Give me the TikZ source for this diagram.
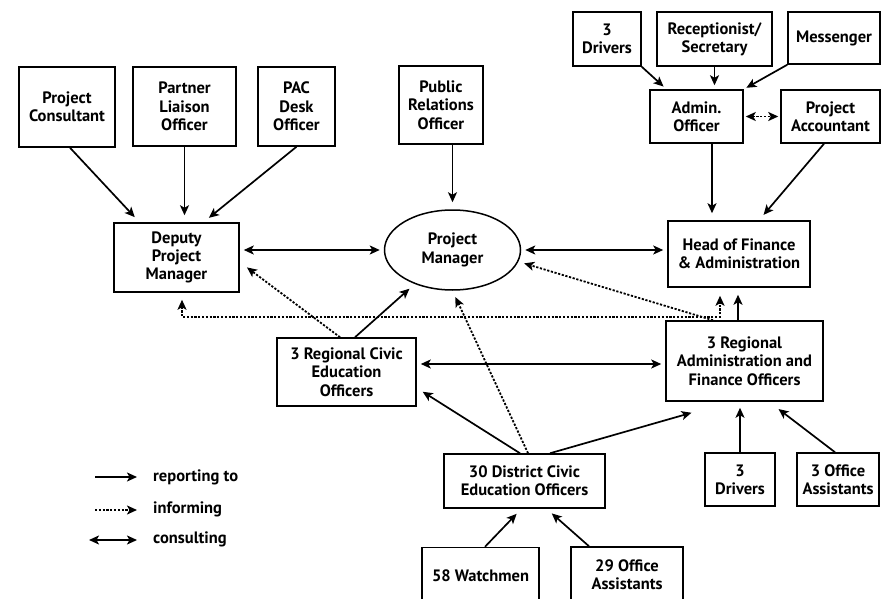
\documentclass[tikz,border=0pt]{standalone}
\usepackage{fontspec}
\setmainfont{PT Sans}
\usetikzlibrary{arrows.meta,shapes.geometric}
\tikzset{
  unit/.style={draw=black, line width=1.5pt, align=center, inner sep=0pt,
    font=\bfseries\fontsize{16.5}{18.3}\selectfont},
  keytext/.style={anchor=west, inner sep=0pt, font=\bfseries\fontsize{16.5}{18.3}\selectfont},
  report/.style={->, line width=1.7pt, shorten >=7pt},
  inform/.style={->, line width=1.8pt, dash pattern=on 2.2pt off 1.6pt, shorten >=7pt},
  consult/.style={<->, line width=1.7pt, shorten >=4pt, shorten <=4pt}
}
\begin{document}
\begin{tikzpicture}[x=1pt,y=-1pt,>={Stealth[length=10pt,width=9pt,inset=2.5pt]}]
\useasboundingbox (0,0) rectangle (881,599);
\clip (0,0) rectangle (881,599);
% boxes
\node[unit, minimum width=96, minimum height=80] (cons) at (67,107) {Project\\Consultant};
\node[unit, minimum width=103, minimum height=79] (liaison) at (184.5,106.5) {Partner\\Liaison\\Officer};
\node[unit, minimum width=77, minimum height=79] (pac) at (296.5,106.5) {PAC\\Desk\\Officer};
\node[unit, minimum width=84, minimum height=78] (pr) at (441,105) {Public\\Relations\\Officer};
\node[unit, minimum width=68, minimum height=54] (drivers) at (607,39) {3\\Drivers};
\node[unit, minimum width=115, minimum height=54] (recep) at (714.5,39) {Receptionist/\\Secretary};
\node[unit, minimum width=92, minimum height=52] (mess) at (834,38) {Messenger};
\node[unit, minimum width=93, minimum height=53] (admin) at (696.5,116.5) {Admin.\\Officer};
\node[unit, minimum width=99, minimum height=53] (acct) at (830.5,116.5) {Project\\Accountant};
\node[unit, minimum width=125, minimum height=69] (deputy) at (176.5,257.5) {Deputy\\Project\\Manager};
\node[unit, shape=ellipse, minimum width=136, minimum height=80] (pm) at (452.5,250) {Project\\Manager};
\node[unit, minimum width=142, minimum height=66] (hfa) at (739,254) {Head of Finance\\\& Administration};
\node[unit, minimum width=139, minimum height=68] (rceo) at (346.5,372) {3 Regional Civic\\Education\\Officers};
\node[unit, minimum width=157, minimum height=80] (rafo) at (744.5,361) {3 Regional\\Administration and\\Finance Officers};
\node[unit, minimum width=161, minimum height=54] (dceo) at (524.5,481) {30 District Civic\\Education Officers};
\node[unit, minimum width=70, minimum height=53] (rdrivers) at (740,479.5) {3\\Drivers};
\node[unit, minimum width=82, minimum height=53] (roffice) at (838,479.5) {3 Office\\Assistants};
\node[unit, minimum width=117, minimum height=56] (watch) at (480.5,575.5) {58 Watchmen};
\node[unit, minimum width=112, minimum height=56] (doffice) at (627,575) {29 Office\\Assistants};
% reporting to
\path ([xshift=3]cons.south) edge[report] ([xshift=-37]deputy.north);
\path (liaison.south) edge[report] (liaison.south |- deputy.north);
\path (pac.south) edge[report] ([xshift=27]deputy.north);
\path (pr.south -| pm.north) edge[report] (pm.north);
\path (drivers.south east) edge[report, shorten >=4pt] ([xshift=-30]admin.north);
\path (recep.south) edge[report, shorten >=4pt] (recep.south |- admin.north);
\path (mess.south west) edge[report, shorten >=3pt] (admin.north east);
\path ([xshift=15.5]admin.south) edge[report] ([xshift=-27]hfa.north);
\path ([xshift=-6.5]acct.south) edge[report] ([xshift=20]hfa.north);
\path ([xshift=8.5]rceo.north) edge[report] (pm.222);
\path ([xshift=-6.5]rafo.north) edge[report] ([xshift=-6.5]rafo.north |- hfa.south);
\path ([xshift=-4.5]dceo.north) edge[report] ([yshift=-16]rceo.east);
\path ([xshift=25.5]dceo.north) edge[report, shorten >=0pt] ([xshift=-53,yshift=-11]rafo.south);
\path (rdrivers.north) edge[report, shorten >=6pt] (rdrivers.north |- rafo.south);
\path ([xshift=-3]roffice.north) edge[report, shorten >=12pt] ([xshift=24.5]rafo.south);
\path ([xshift=4.5]watch.north) edge[report] ([xshift=-3]dceo.south);
\path ([xshift=-38]doffice.north) edge[report] ([xshift=22]dceo.south);
% informing
\path (admin.east) edge[inform, <->, shorten >=2pt, shorten <=2pt] (acct.west);
\path ([xshift=-6.5]rceo.north) edge[inform, shorten >=9pt] ([yshift=-4.5]deputy.east);
\path ([xshift=-31.5]rafo.north) edge[inform, shorten >=6pt] (pm.350);
\path ([xshift=3.5]dceo.north) edge[inform] (pm.south);
\coordinate (infoturn) at (720,317);
\draw[inform, <->, shorten <=7pt, shorten >=8pt] ([xshift=5.5]deputy.south) |- (infoturn) -- (infoturn |- hfa.south);
% consulting
\path (deputy.east |- pm.west) edge[consult] (pm.west);
\path (pm.east) edge[consult] (hfa.west |- pm.east);
\path ([yshift=8]rceo.east) edge[consult] ([yshift=8]rceo.east -| rafo.west);
% key
\node[keytext] (reporttext) at (153,477) {reporting to};
\node[keytext] (informtext) at (153,509) {informing};
\node[keytext] (consulttext) at (153,539) {consulting};
\coordinate (reportkey) at (95,477);
\coordinate (informkey) at (95,510);
\coordinate (consultkey) at (89,540);
\path (reportkey) edge[report, shorten >=16pt] (reportkey -| reporttext.west);
\path (informkey) edge[inform, shorten >=16pt] (informkey -| informtext.west);
\path (consultkey) edge[consult, shorten <=0pt, shorten >=16pt] (consultkey -| consulttext.west);
\end{tikzpicture}
\end{document}
